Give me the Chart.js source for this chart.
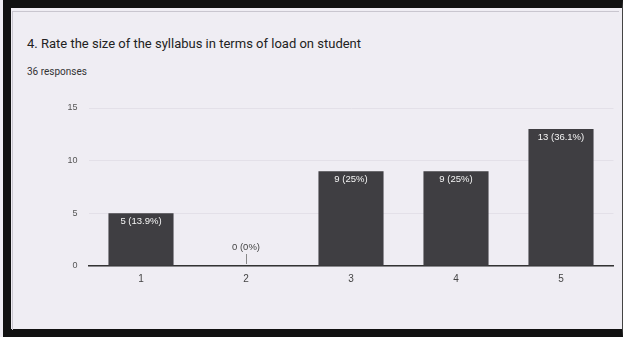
<!DOCTYPE html>
<html>
<head>
<meta charset="utf-8">
<script src="https://cdn.jsdelivr.net/npm/chart.js@4/dist/chart.umd.min.js"></script>
<style>
  html, body { margin:0; padding:0; }
  body { width:623px; height:337px; background:#efedf3; position:relative; overflow:hidden; font-family: Roboto, "Liberation Sans", sans-serif; }
  #frame { position:absolute; left:3px; top:0; width:611px; height:321px; border-top:8px solid #111; border-left:8px solid #111; border-bottom:8px solid #111; border-right:1px solid #444; }
  #inner { position:absolute; left:12px; top:11px; width:606px; height:318px; border-top:1px solid #c9c6cf; border-left:1px solid #c9c6cf; }
  #title { position:absolute; left:27px; top:36px; font-size:13px; color:#222; white-space:nowrap; }
  #sub { position:absolute; left:27px; top:66px; font-size:10px; color:#333; white-space:nowrap; }
  canvas { position:absolute; left:0; top:0; }
</style>
</head>
<body>
<div id="frame"></div>
<div id="inner"></div>
<div id="title">4. Rate the size of the syllabus in terms of load on student</div>
<div id="sub">36 responses</div>
<canvas id="c" width="623" height="337"></canvas>
<script>
const categories = ['1', '2', '3', '4', '5'];
const counts = [5, 0, 9, 9, 13];
const percents = ['13.9%', '0%', '25%', '25%', '36.1%'];
const yTicks = [0, 5, 10, 15];

const labelPlugin = {
  id: 'barLabels',
  afterDatasetsDraw(chart) {
    const ctx = chart.ctx;
    const meta = chart.getDatasetMeta(0);
    const yScale = chart.scales.y;
    ctx.save();
    ctx.font = '9.5px "Liberation Sans", Arial, sans-serif';
    ctx.textAlign = 'center';
    ctx.textBaseline = 'middle';
    meta.data.forEach((bar, i) => {
      const txt = counts[i] + ' (' + percents[i] + ')';
      if (counts[i] > 0) {
        ctx.fillStyle = '#f4f4f4';
        ctx.fillText(txt, bar.x, bar.y + 8);
      } else {
        const base = yScale.getPixelForValue(0);
        ctx.strokeStyle = '#888';
        ctx.lineWidth = 1;
        ctx.beginPath();
        ctx.moveTo(Math.round(bar.x) + 0.5, base - 2);
        ctx.lineTo(Math.round(bar.x) + 0.5, base - 12);
        ctx.stroke();
        ctx.fillStyle = '#444';
        ctx.fillText(txt, bar.x, base - 19);
      }
    });
    ctx.restore();
  }
};

new Chart(document.getElementById('c'), {
  type: 'bar',
  data: {
    labels: categories,
    datasets: [{
      data: counts,
      backgroundColor: '#3f3e42',
      borderWidth: 0,
      categoryPercentage: 0.62,
      barPercentage: 1.0
    }]
  },
  options: {
    responsive: false,
    animation: false,
    devicePixelRatio: 1,
    layout: { padding: { left: 55, right: 9.5, top: 108, bottom: 51 } },
    plugins: { legend: { display: false }, tooltip: { enabled: false } },
    scales: {
      x: {
        afterFit: s => { s.height = 20; },
        grid: { display: false, drawTicks: false },
        border: { display: true, color: '#333', width: 1.5 },
        ticks: { color: '#444', font: { size: 10, family: '"Liberation Sans", Arial, sans-serif' }, padding: 7 }
      },
      y: {
        min: 0, max: 15,
        afterFit: s => { s.width = 33.5; },
        afterBuildTicks: s => { s.ticks = yTicks.map(v => ({ value: v })); },
        grid: { color: '#e3e0e8', drawTicks: false },
        border: { display: false },
        ticks: { color: '#555', font: { size: 9, family: '"Liberation Sans", Arial, sans-serif' }, padding: 11 }
      }
    }
  },
  plugins: [labelPlugin]
});
</script>
</body>
</html>
